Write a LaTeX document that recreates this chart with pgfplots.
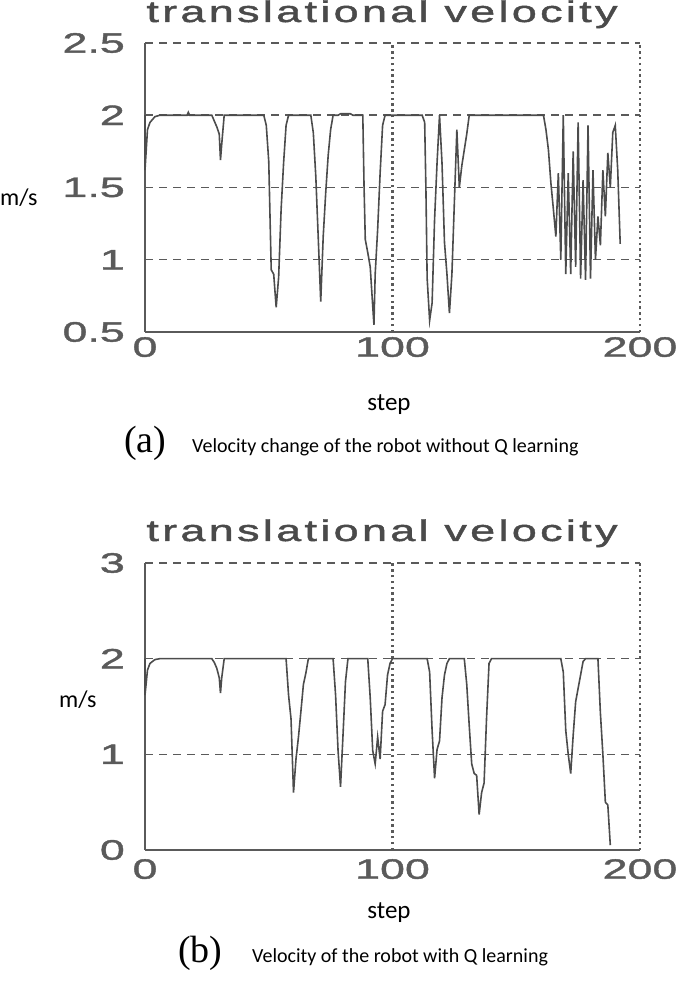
\documentclass[border=0pt]{standalone}
\usepackage{fontspec}
\usepackage{pgfplots}
\pgfplotsset{compat=1.18}
\setmainfont{Liberation Sans}
\newfontfamily\labfont[FakeStretch=1.6,FakeBold=1.5]{Liberation Sans}
\newfontfamily\titfont[FakeStretch=1.5,FakeBold=1.5,LetterSpace=11]{Liberation Sans}
\newfontfamily\calfont{Carlito}
\newfontfamily\serfont{Liberation Serif}
\definecolor{axgray}{HTML}{5A5A5A}
\definecolor{tgray}{HTML}{4A4A4A}
\definecolor{linegray}{HTML}{4C4C4C}

\pgfplotstableread{
x y
0 2
0 1.62
1 1.9
2 1.95
4 1.99
6 2
17 2
17.5 2.02
18 2
27 2
28 1.96
29 1.92
30 1.87
30.5 1.69
31 1.8
32 2
48 2
49 1.93
50 1.68
51 0.93
52 0.9
53 0.67
54 0.88
55 1.35
56 1.67
57 1.93
58 2
67 2
68 1.88
69 1.58
70 1.15
71 0.71
72 1.16
73 1.46
74 1.72
75 1.9
76 2
78 2
79 2.01
83 2.01
84 2
88 2
88.5 1.51
89 1.14
90 1.05
91 0.95
92 0.68
92.5 0.55
93 0.9
94 1.21
95 1.6
96 1.93
97 2
112 2
113 1.95
113.5 1.49
114 0.87
115 0.58
116 0.7
117 1.28
118 1.67
119 2.0
120 1.67
121 1.12
122 0.9
123 0.63
124 0.9
125 1.4
126 1.9
127 1.5
128 1.65
129 1.76
130 1.87
131 2
161 2
162 1.9
163 1.76
164 1.53
165 1.35
166 1.16
167 1.6
168 1.0
169 2.0
170 0.9
171 1.6
172 0.9
173 1.75
174 0.95
175 1.95
176 0.87
177 1.55
178 0.86
179 1.93
180 0.87
181 1.62
182 1.0
183 1.3
184 1.1
185 1.62
186 1.3
187 1.74
188 1.5
189 1.88
190 1.93
191 1.62
192 1.11
}\dataA

\pgfplotstableread{
x y
0 2
0 1.62
1 1.88
2 1.95
4 1.99
6 2
27 2
28 1.96
29 1.9
30 1.8
30.5 1.64
31 1.8
32 2
57 2
58 1.62
59 1.37
60 0.6
61 0.95
62 1.18
63 1.45
64 1.73
65 1.85
66 2
76 2
77 1.62
78 1.04
79 0.66
80 1.2
81 1.76
82 2
90 2
91 1.59
92 1.04
93 0.9
94 1.18
95 0.95
96 1.45
97 1.52
98 1.83
99 1.95
100 2
114 2
115 1.86
116 1.25
117 0.75
118 1.05
119 1.14
120 1.59
121 1.83
122 1.95
123 2
129 2
130 1.73
131 1.3
132 0.9
133 0.8
134 0.78
135 0.37
136 0.6
137 0.7
138 1.38
139 1.95
140 2
168 2
169 1.86
170 1.25
171 1.0
172 0.8
173 1.2
174 1.55
175 1.69
176 1.83
177 1.97
178 2
183 2
184 1.43
185 1.0
186 0.5
187 0.47
188 0.05
}\dataB

\pgfplotsset{
  vel/.style={
    scale only axis, width=495bp,
    xmin=0, xmax=200, xtick={0,100,200},
    axis x line=bottom, axis y line=left,
    x axis line style={-, axgray, line width=2.2bp},
    y axis line style={-, axgray, line width=2.2bp},
    major tick length=0pt,
    xmajorgrids, ymajorgrids,
    x grid style={axgray, line width=2.4bp, dash pattern=on 2.4bp off 3.4bp},
    y grid style={axgray, line width=1.5bp, dash pattern=on 8bp off 6bp},
    /pgf/number format/assume math mode=true,
    tick label style={font=\labfont\fontsize{28bp}{30bp}\selectfont, text=axgray, inner sep=0pt},
    yticklabel style={anchor=east, xshift=-20bp},
    clip=false,
  }
}

\begin{document}
\begin{tikzpicture}[x=1bp,y=1bp]
\useasboundingbox (0,0) rectangle (685,988);

% top axis
\begin{axis}[vel, at={(145bp,656bp)}, anchor=south west, height=289bp,
  ymin=0.5, ymax=2.5, ytick={0.5,1,1.5,2,2.5},
  yticklabels={0.5,1,1.5,2,2.5},
  xticklabel style={anchor=north, yshift=-5bp}]
\addplot[linegray, line width=1.6bp, no marks] table[x=x,y=y] {\dataA};
\end{axis}

% bottom axis
\begin{axis}[vel, at={(145bp,138bp)}, anchor=south west, height=287bp,
  ymin=0, ymax=3, ytick={0,1,2,3},
  xticklabel style={anchor=north, yshift=-9bp}]
\addplot[linegray, line width=1.6bp, no marks] table[x=x,y=y] {\dataB};
\end{axis}

% titles
\node[anchor=base, inner sep=0pt, text=tgray] at (382,966) {\titfont\fontsize{30bp}{32bp}\selectfont translational velocity};
\node[anchor=base, inner sep=0pt, text=tgray] at (382,447) {\titfont\fontsize{30bp}{32bp}\selectfont translational velocity};

% y labels
\node[anchor=west, inner sep=0pt] at (0,790) {\calfont\fontsize{24bp}{28bp}\selectfont m/s};
\node[anchor=west, inner sep=0pt] at (59,288) {\calfont\fontsize{24bp}{28bp}\selectfont m/s};

% x labels
\node[anchor=center, inner sep=0pt] at (389,583) {\calfont\fontsize{25bp}{28bp}\selectfont step};
\node[anchor=center, inner sep=0pt] at (389,75) {\calfont\fontsize{25bp}{28bp}\selectfont step};

% captions
\node[anchor=base west, inner sep=0pt] at (124,535) {\serfont\fontsize{38bp}{40bp}\selectfont (a)};
\node[anchor=base west, inner sep=0pt] at (192,535) {\calfont\fontsize{20bp}{24bp}\selectfont Velocity change of the robot without Q learning};
\node[anchor=base west, inner sep=0pt] at (178,25) {\serfont\fontsize{38bp}{40bp}\selectfont (b)};
\node[anchor=base west, inner sep=0pt] at (252,25) {\calfont\fontsize{20bp}{24bp}\selectfont Velocity of the robot with Q learning};
\end{tikzpicture}
\end{document}
